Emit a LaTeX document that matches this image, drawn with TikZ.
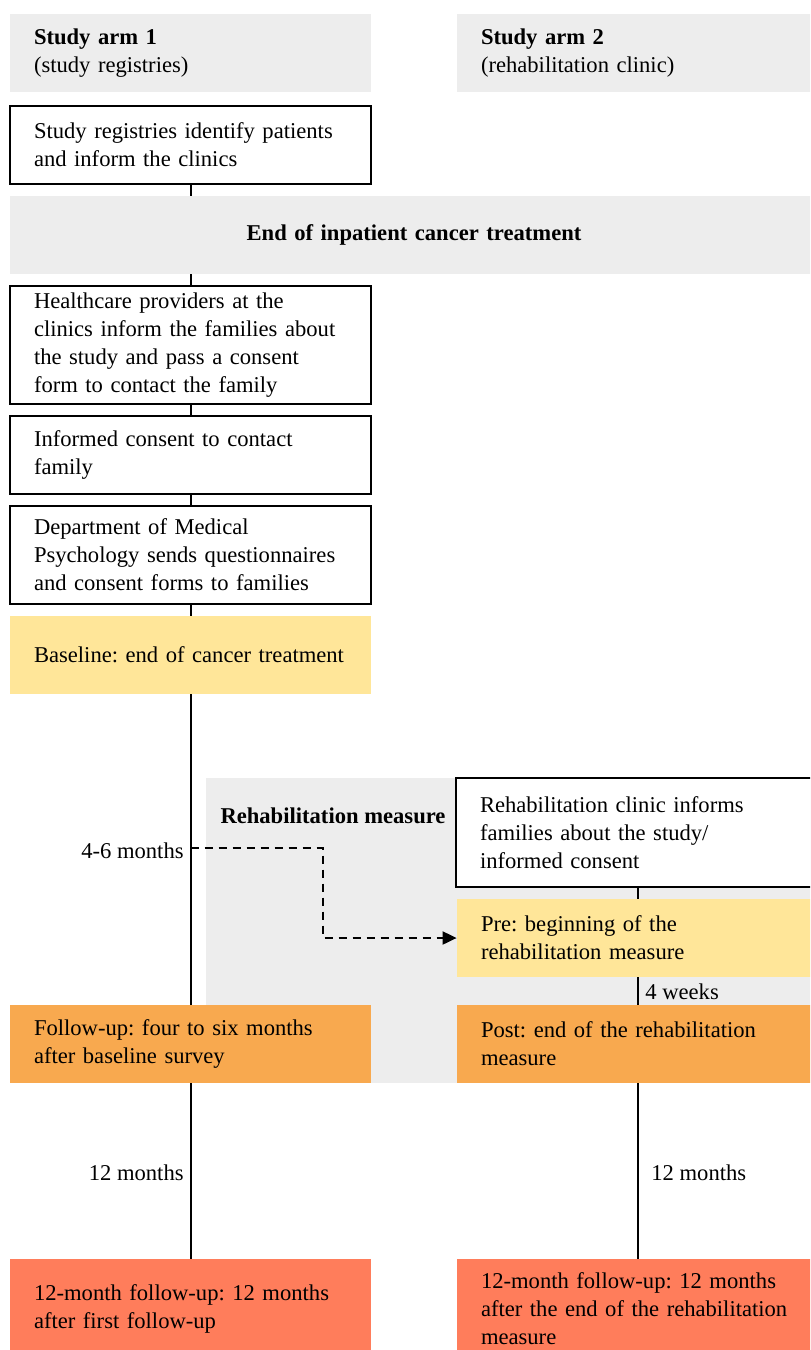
\documentclass[tikz,border=0pt]{standalone}
\usepackage{fontspec}
\setmainfont{Liberation Serif}
\usetikzlibrary{arrows.meta}
\definecolor{hgray}{HTML}{EDEDED}
\definecolor{byellow}{HTML}{FFE699}
\definecolor{borange}{HTML}{F8A94F}
\definecolor{bred}{HTML}{FF7D5B}
\tikzset{
  base/.style={rectangle, inner xsep=12pt, inner ysep=0pt, text width=156.5pt, align=left,
    minimum height=39pt, font=\fontsize{11.3}{14}\selectfont},
  whitebox/.style={base, draw=black, line width=1pt, fill=white},
  graybox/.style={base, fill=hgray},
  yellowbox/.style={base, fill=byellow},
  orangebox/.style={base, fill=borange},
  redbox/.style={base, fill=bred},
  conn/.style={line width=1pt, draw=black},
  lab/.style={font=\fontsize{11.3}{14}\selectfont, inner sep=0pt},
  dashconn/.style={line width=1pt, dashed, dash pattern=on 4pt off 3pt, -{Triangle[length=7pt,width=6.5pt]}}
}
\frenchspacing
\begin{document}
\begin{tikzpicture}[x=0.5pt,y=-0.5pt]
\useasboundingbox (0,0) rectangle (810,1350);
\clip (0,0) rectangle (810,1350);
% headers
\node[graybox] (h1) at (190.5,53) {\textbf{Study arm 1}\\(study registries)};
\node[graybox] (h2) at (637.5,53) {\textbf{Study arm 2}\\(rehabilitation clinic)};
% left column
\node[whitebox] (b1) at (190.5,145) {Study registries identify patients\\and inform the clinics};
\node[graybox, text width=380pt, align=center] (end) at (414,235) {\textbf{End of inpatient cancer treatment}};
\node[whitebox, minimum height=59pt] (b2) at (190.5,345) {Healthcare providers at the\\clinics inform the families about\\the study and pass a consent\\form to contact the family};
\node[whitebox] (b3) at (190.5,455) {Informed consent to contact\\family};
\node[whitebox, minimum height=49pt] (b4) at (190.5,555) {Department of Medical\\Psychology sends questionnaires\\and consent forms to families};
\node[yellowbox] (bl) at (190.5,655) {Baseline: end of cancer treatment};
% rehabilitation region
\node[rectangle, fill=hgray, minimum width=306pt, minimum height=152.5pt, inner sep=0pt] (rehab) at (512,930.5) {};
\node[lab, font=\fontsize{11.3}{14}\selectfont\bfseries] (rehablab) at (333,816) {Rehabilitation measure};
\node[whitebox, text width=157pt, minimum height=54.5pt] (rc) at (637,832.5) {Rehabilitation clinic informs\\families about the study/\\informed consent};
\node[yellowbox] (pre) at (637.5,938) {Pre: beginning of the\\rehabilitation measure};
\node[orangebox] (fu) at (190.5,1044) {Follow-up: four to six months\\after baseline survey};
\node[orangebox] (post) at (637.5,1044) {Post: end of the rehabilitation\\measure};
\node[redbox, minimum height=50pt] (f12a) at (190.5,1309) {12-month follow-up: 12 months\\after first follow-up};
\node[redbox, minimum height=50pt] (f12b) at (637.5,1309) {12-month follow-up: 12 months\\after the end of the rehabilitation\\measure};
% connectors
\draw[conn] (b1.south) -- (b1.south |- end.north);
\draw[conn] (b1.south |- end.south) -- (b2.north);
\draw[conn] (b2.south) -- (b3.north);
\draw[conn] (b3.south) -- (b4.north);
\draw[conn] (b4.south) -- (bl.north);
\draw[conn] (bl.south) -- (fu.north);
\draw[conn] (fu.south) -- (f12a.north);
\draw[conn] (rc.south -| pre.north) -- (pre.north);
\draw[conn] (pre.south) -- (post.north);
\draw[conn] (post.south) -- (f12b.north);
% dashed arrow
\coordinate (d0) at (bl.south |- 0,848);
\coordinate (d1) at (323,848);
\coordinate (d2) at (323,938);
\draw[dashconn] (d0) -- (d1) -- (d2) -- (pre.west);
% labels
\node[lab, anchor=east] (l46) at (184,851) {4-6 months};
\node[lab, anchor=west] (l4w) at (645,992) {4 weeks};
\node[lab, anchor=east] (l12a) at (184,1173) {12 months};
\node[lab, anchor=west] (l12b) at (651,1173) {12 months};
\end{tikzpicture}
\end{document}
